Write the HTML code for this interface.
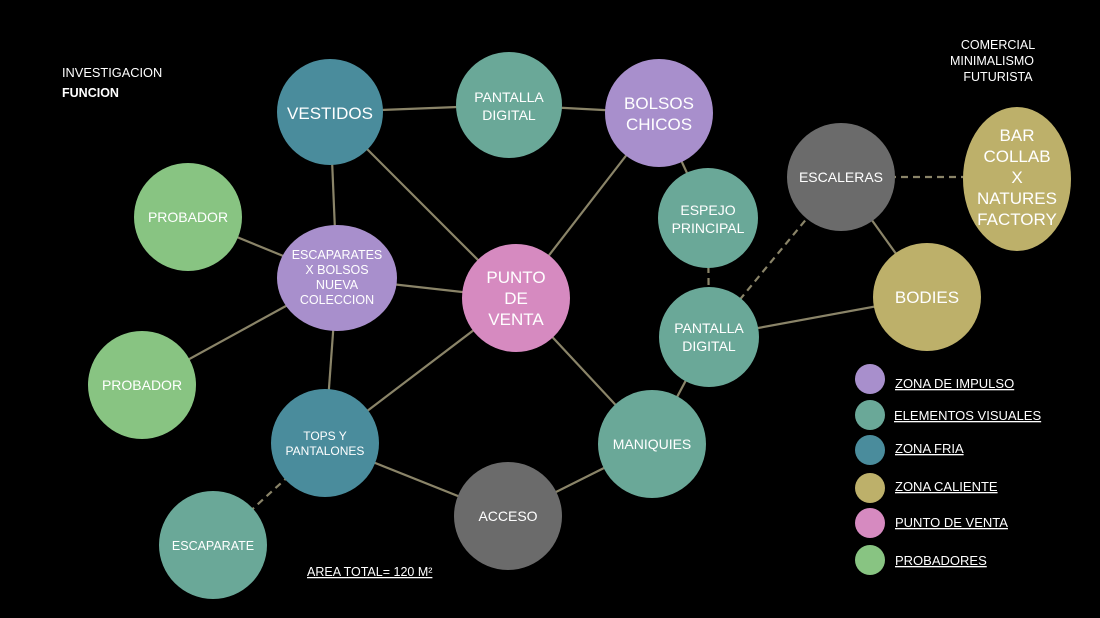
<!DOCTYPE html>
<html><head><meta charset="utf-8"><style>
html,body{margin:0;padding:0;background:#000;}
svg{display:block}
text{font-family:"Liberation Sans",sans-serif;fill:#fff;}
</style></head><body>
<svg width="1100" height="618" viewBox="0 0 1100 618">
<rect width="1100" height="618" fill="#000"/>
<g stroke="#8a8468" stroke-width="2.2" fill="none">
<line x1="330" y1="112" x2="509" y2="105"/>
<line x1="330" y1="112" x2="337" y2="278"/>
<line x1="330" y1="112" x2="516" y2="298"/>
<line x1="509" y1="105" x2="659" y2="113"/>
<line x1="659" y1="113" x2="516" y2="298"/>
<line x1="659" y1="113" x2="708" y2="218"/>
<line x1="709" y1="337" x2="927" y2="297"/>
<line x1="841" y1="177" x2="927" y2="297"/>
<line x1="709" y1="337" x2="652" y2="444"/>
<line x1="516" y1="298" x2="652" y2="444"/>
<line x1="516" y1="298" x2="337" y2="278"/>
<line x1="516" y1="298" x2="325" y2="443"/>
<line x1="188" y1="217" x2="337" y2="278"/>
<line x1="142" y1="385" x2="337" y2="278"/>
<line x1="337" y1="278" x2="325" y2="443"/>
<line x1="325" y1="443" x2="508" y2="516"/>
<line x1="508" y1="516" x2="652" y2="444"/>
</g>
<g stroke="#8a8468" stroke-width="2.2" fill="none" stroke-dasharray="7,5">
<line x1="708" y1="218" x2="709" y2="337"/>
<line x1="709" y1="337" x2="841" y2="177"/>
<line x1="841" y1="177" x2="1017" y2="177"/>
<line x1="325" y1="443" x2="213" y2="545"/>
</g>
<g>
<circle cx="330" cy="112" r="53" fill="#4a8c9c"/>
<circle cx="509" cy="105" r="53" fill="#6aa898"/>
<circle cx="659" cy="113" r="54" fill="#a88fcc"/>
<circle cx="188" cy="217" r="54" fill="#88c482"/>
<ellipse cx="337" cy="278" rx="60" ry="53" fill="#a88fcc"/>
<circle cx="516" cy="298" r="54" fill="#d68ac0"/>
<circle cx="708" cy="218" r="50" fill="#6aa898"/>
<circle cx="841" cy="177" r="54" fill="#6b6b6b"/>
<ellipse cx="1017" cy="179" rx="54" ry="72" fill="#bdb06a"/>
<circle cx="927" cy="297" r="54" fill="#bdb06a"/>
<circle cx="709" cy="337" r="50" fill="#6aa898"/>
<circle cx="142" cy="385" r="54" fill="#88c482"/>
<circle cx="325" cy="443" r="54" fill="#4a8c9c"/>
<circle cx="652" cy="444" r="54" fill="#6aa898"/>
<circle cx="508" cy="516" r="54" fill="#6b6b6b"/>
<circle cx="213" cy="545" r="54" fill="#6aa898"/>
</g>
<g text-anchor="middle">
<text x="330" y="119" font-size="17">VESTIDOS</text>
<text x="509" y="102" font-size="14">PANTALLA</text>
<text x="509" y="120" font-size="14">DIGITAL</text>
<text x="659" y="109" font-size="17">BOLSOS</text>
<text x="659" y="130" font-size="17">CHICOS</text>
<text x="188" y="222" font-size="14">PROBADOR</text>
<text x="337" y="259" font-size="12.5">ESCAPARATES</text>
<text x="337" y="274" font-size="12.5">X BOLSOS</text>
<text x="337" y="289" font-size="12.5">NUEVA</text>
<text x="337" y="304" font-size="12.5">COLECCION</text>
<text x="516" y="283" font-size="17">PUNTO</text>
<text x="516" y="304" font-size="17">DE</text>
<text x="516" y="325" font-size="17">VENTA</text>
<text x="708" y="215" font-size="14">ESPEJO</text>
<text x="708" y="233" font-size="14">PRINCIPAL</text>
<text x="841" y="182" font-size="14">ESCALERAS</text>
<text x="1017" y="141" font-size="17">BAR</text>
<text x="1017" y="162" font-size="17">COLLAB</text>
<text x="1017" y="183" font-size="17">X</text>
<text x="1017" y="204" font-size="17">NATURES</text>
<text x="1017" y="225" font-size="17">FACTORY</text>
<text x="927" y="303" font-size="17">BODIES</text>
<text x="709" y="333" font-size="14">PANTALLA</text>
<text x="709" y="351" font-size="14">DIGITAL</text>
<text x="142" y="390" font-size="14">PROBADOR</text>
<text x="325" y="440" font-size="12">TOPS Y</text>
<text x="325" y="455" font-size="12">PANTALONES</text>
<text x="652" y="449" font-size="14">MANIQUIES</text>
<text x="508" y="521" font-size="14">ACCESO</text>
<text x="213" y="550" font-size="12.5">ESCAPARATE</text>
<text x="998" y="49" font-size="12.5">COMERCIAL</text>
<text x="992" y="65" font-size="12.5">MINIMALISMO</text>
<text x="998" y="81" font-size="12.5">FUTURISTA</text>
</g>
<text x="62" y="77" font-size="12.8">INVESTIGACION</text>
<text x="62" y="97" font-size="12.5" font-weight="bold">FUNCION</text>
<text x="307" y="576" font-size="12.5" text-decoration="underline">AREA TOTAL= 120 M²</text>
<g>
<circle cx="870" cy="379" r="15" fill="#a88fcc"/>
<circle cx="870" cy="415" r="15" fill="#6aa898"/>
<circle cx="870" cy="450" r="15" fill="#4a8c9c"/>
<circle cx="870" cy="488" r="15" fill="#bdb06a"/>
<circle cx="870" cy="523" r="15" fill="#d68ac0"/>
<circle cx="870" cy="560" r="15" fill="#88c482"/>
</g>
<g font-size="13">
<text x="895" y="388" text-decoration="underline">ZONA DE IMPULSO</text>
<text x="894" y="420" text-decoration="underline">ELEMENTOS VISUALES</text>
<text x="895" y="453" text-decoration="underline">ZONA FRIA</text>
<text x="895" y="491" text-decoration="underline">ZONA CALIENTE</text>
<text x="895" y="527" text-decoration="underline">PUNTO DE VENTA</text>
<text x="895" y="565" text-decoration="underline">PROBADORES</text>
</g>
</svg>
</body></html>
